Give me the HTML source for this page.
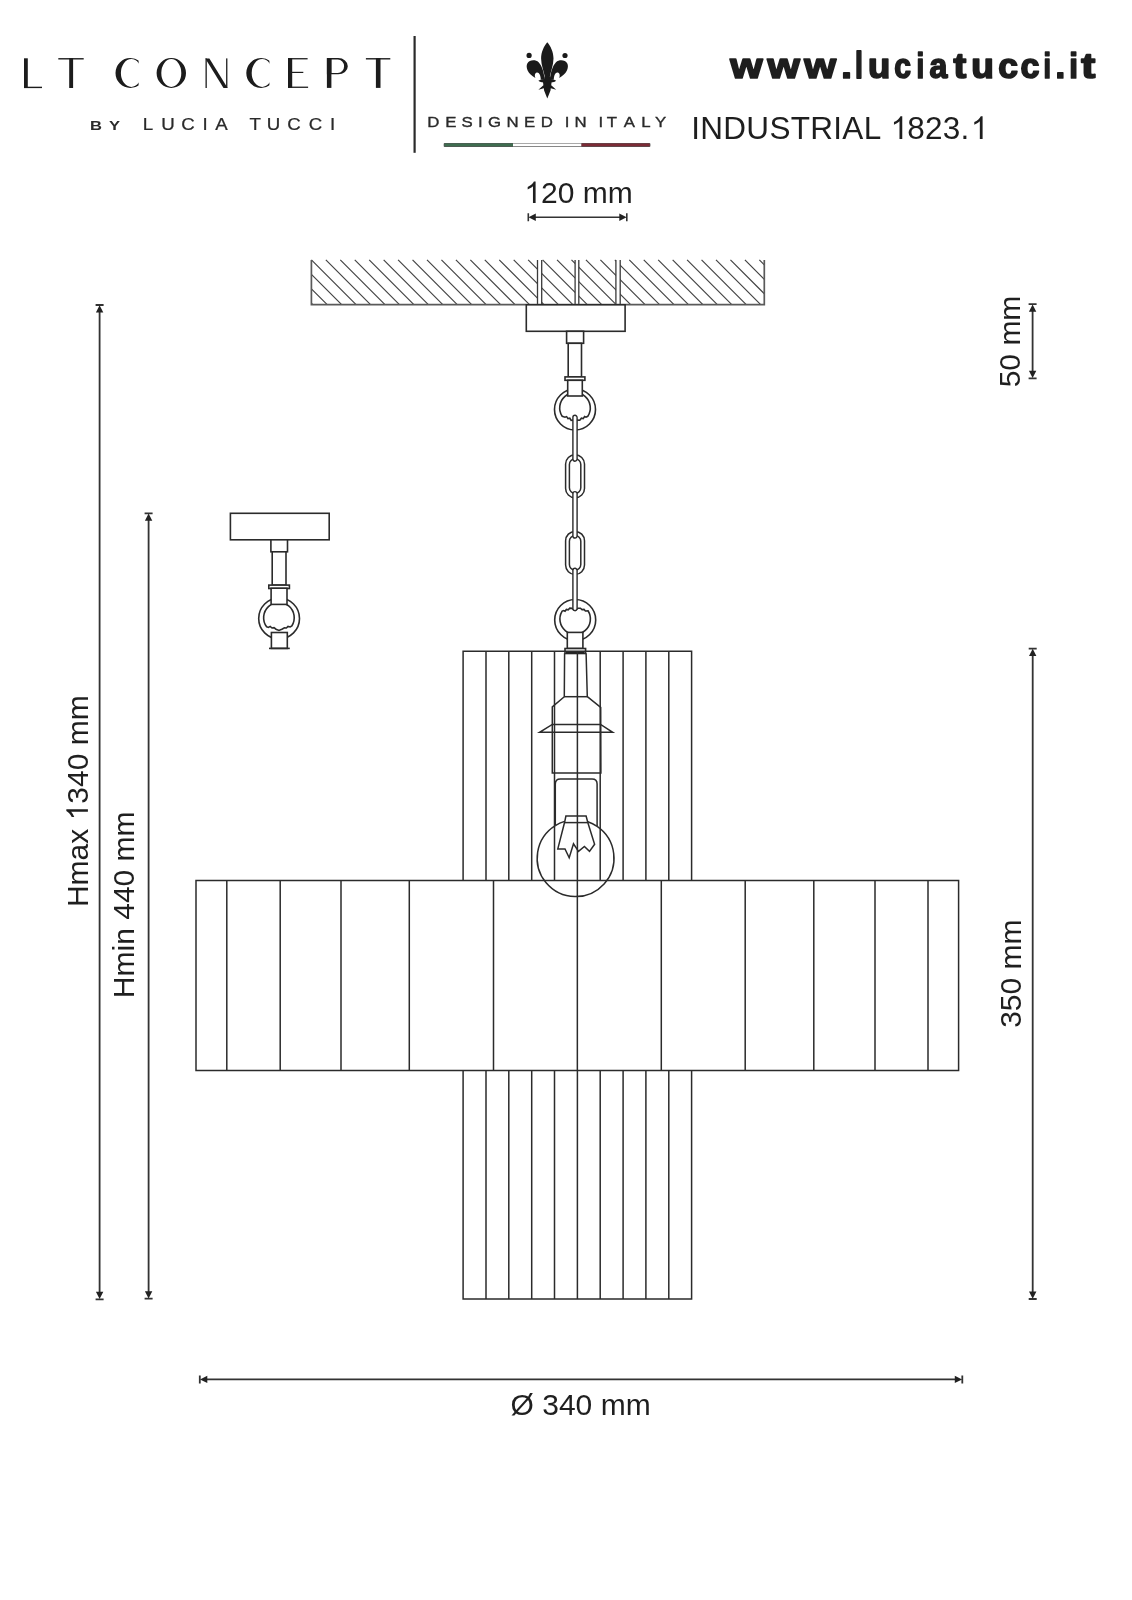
<!DOCTYPE html>
<html><head><meta charset="utf-8"><title>INDUSTRIAL 1823.1</title>
<style>html,body{margin:0;padding:0;background:#fff;}svg{display:block;will-change:transform;}</style></head>
<body><svg width="1132" height="1600" viewBox="0 0 1132 1600">
<rect width="1132" height="1600" fill="#fff"/>
<path d="M311.40 303.25L312.75 304.60M311.40 288.80L327.20 304.60M311.40 274.35L341.65 304.60M311.40 259.90L356.10 304.60M325.85 259.90L370.55 304.60M340.30 259.90L385.00 304.60M354.75 259.90L399.45 304.60M369.20 259.90L413.90 304.60M383.65 259.90L428.35 304.60M398.10 259.90L442.80 304.60M412.55 259.90L457.25 304.60M427.00 259.90L471.70 304.60M441.45 259.90L486.15 304.60M455.90 259.90L500.60 304.60M470.35 259.90L515.05 304.60M484.80 259.90L529.50 304.60M499.25 259.90L543.95 304.60M513.70 259.90L558.40 304.60M528.15 259.90L572.85 304.60M542.60 259.90L587.30 304.60M557.05 259.90L601.75 304.60M571.50 259.90L616.20 304.60M585.95 259.90L630.65 304.60M600.40 259.90L645.10 304.60M614.85 259.90L659.55 304.60M629.30 259.90L674.00 304.60M643.75 259.90L688.45 304.60M658.20 259.90L702.90 304.60M672.65 259.90L717.35 304.60M687.10 259.90L731.80 304.60M701.55 259.90L746.25 304.60M716.00 259.90L760.70 304.60M730.45 259.90L764.30 293.75M744.90 259.90L764.30 279.30M759.35 259.90L764.30 264.85" stroke="#444" stroke-width="1.2" fill="none"/>
<rect x="537.5" y="258.9" width="4.2000000000000455" height="45.700000000000045" fill="#fff"/>
<path d="M537.5 259.9V304.6M541.7 259.9V304.6" stroke="#3a3a3a" stroke-width="1.3"/>
<rect x="575.1" y="258.9" width="3.699999999999932" height="45.700000000000045" fill="#fff"/>
<path d="M575.1 259.9V304.6M578.8 259.9V304.6" stroke="#3a3a3a" stroke-width="1.3"/>
<rect x="615.9" y="258.9" width="4.300000000000068" height="45.700000000000045" fill="#fff"/>
<path d="M615.9 259.9V304.6M620.2 259.9V304.6" stroke="#3a3a3a" stroke-width="1.3"/>
<path d="M311.4 259.9V304.6H764.3V259.9" stroke="#5a5a5a" stroke-width="1.7" fill="none" stroke-linejoin="miter"/>
<g transform="translate(0 0)" stroke="#2b2b2b" stroke-width="1.6" fill="#fff"><rect x="526.3" y="304.8" width="98.8" height="26.5"/><rect x="566.6" y="331.3" width="17" height="12"/><rect x="568.2" y="343.3" width="13.3" height="33.6"/><rect x="565" y="376.9" width="19.9" height="3.4"/><circle cx="575" cy="409.5" r="20.5"/><path d="M562.2 416.3 A15.3 15.3 0 1 1 587.8 416.3 L586 417.2 L584.6 416.6 L583.2 418.6 L581.4 418.2 L579.8 420.2 L577.5 420 L575.6 421.6 L573.6 420 L571.2 420.4 L569.8 418.2 L568 418.6 L566.6 416.6 L565 417.2 Z"/><rect x="567.7" y="380.3" width="14.6" height="15.7"/></g>
<rect x="565.6" y="454.7" width="18.9" height="43.1" rx="9.4" fill="#fff" stroke="#2b2b2b" stroke-width="1.5"/><rect x="569.4" y="458.8" width="11.4" height="34.6" rx="5.7" fill="#fff" stroke="#2b2b2b" stroke-width="1.5"/>
<rect x="565.6" y="531.4" width="18.9" height="43.1" rx="9.4" fill="#fff" stroke="#2b2b2b" stroke-width="1.5"/><rect x="569.4" y="535.5" width="11.4" height="34.6" rx="5.7" fill="#fff" stroke="#2b2b2b" stroke-width="1.5"/>
<path d="M572.9 417.40000000000003V459.09999999999997A2.1 2.1 0 0 0 577.1 459.09999999999997V417.40000000000003A2.1 2.1 0 0 0 572.9 417.40000000000003" fill="#fff" stroke="#2b2b2b" stroke-width="1.4"/>
<path d="M572.9 493.70000000000005V535.9A2.1 2.1 0 0 0 577.1 535.9V493.70000000000005A2.1 2.1 0 0 0 572.9 493.70000000000005" fill="#fff" stroke="#2b2b2b" stroke-width="1.4"/>
<g stroke="#2b2b2b" stroke-width="1.6" fill="#fff"><circle cx="575.2" cy="620" r="20.5"/><path d="M562 611.3 L563.6 610.6 L565 611.2 L566.4 609.4 L568.2 609.8 L569.8 608.2 L572 608.4 L575.1 610.6 L578 608.2 L580.4 608.2 L582 609.6 L584 609.4 L585.4 611 L588 610.8 A15.25 15.25 0 1 1 562 611.3 Z"/><rect x="567.3" y="632.4" width="15.6" height="16.1"/><rect x="565" y="648.5" width="20.6" height="5"/></g>
<rect x="566" y="651.5" width="18.6" height="2" fill="#222"/>
<path d="M572.9 570.4V608.5A2.1 2.1 0 0 0 577.1 608.5V570.4A2.1 2.1 0 0 0 572.9 570.4" fill="#fff" stroke="#2b2b2b" stroke-width="1.4"/>
<path d="M463.1 651.2H691.6M463.1 651.2V880.4M486.0 651.2V880.4M508.8 651.2V880.4M531.7 651.2V880.4M554.5 651.2V880.4M577.4 651.2V880.4M600.2 651.2V880.4M623.1 651.2V880.4M645.9 651.2V880.4M668.8 651.2V880.4M691.6 651.2V880.4M196 880.4H958.6M196 1070.6H958.6M196 880.4V1070.6M226.8 880.4V1070.6M280.2 880.4V1070.6M341 880.4V1070.6M409.3 880.4V1070.6M493.5 880.4V1070.6M577.35 880.4V1070.6M661.3 880.4V1070.6M745.2 880.4V1070.6M813.8 880.4V1070.6M875 880.4V1070.6M928 880.4V1070.6M958.6 880.4V1070.6M463.1 1070.6V1299.0M486.0 1070.6V1299.0M508.8 1070.6V1299.0M531.7 1070.6V1299.0M554.5 1070.6V1299.0M577.4 1070.6V1299.0M600.2 1070.6V1299.0M623.1 1070.6V1299.0M645.9 1070.6V1299.0M668.8 1070.6V1299.0M691.6 1070.6V1299.0M463.1 1299.0H691.6" stroke="#2b2b2b" stroke-width="1.5" fill="none" stroke-linecap="square"/>
<g stroke="#2b2b2b" stroke-width="1.5" fill="none"><path d="M564.6 653.2 L564.3 696.7 L552.3 706.9 L552.3 773 L600.9 773 L600.7 707.4 L587.3 696.7 L586.1 653.2"/><path d="M564.3 696.7 H587.3"/><path d="M552.3 724.4 H600.6 L612.7 732.3 H539.6 Z"/><path d="M555.3 825.6 V784 Q555.3 778.9 560.3 778.9 H592.1 Q597.1 778.9 597.1 784 V826.4"/><path d="M555.3 825.6 A38.4 38.4 0 1 0 597.1 826.4"/><path d="M555.3 825.6 A38.4 38.4 0 0 1 564.6 821.4"/><path d="M587.8 821.8 A38.4 38.4 0 0 1 597.1 826.4"/><path d="M565.9 816 H586.1 L587.8 822.5 L594.6 844.3 L589.5 851.4 L584.4 846.4 L578.5 851.4 L573.5 843.8 L569.2 857.8 L565 848.9 L557.8 848.9 L564.6 822.3 Z"/><path d="M564.6 822.6 H587.8"/></g>
<g transform="translate(-295.9 208.5)" stroke="#2b2b2b" stroke-width="1.6" fill="#fff"><rect x="526.3" y="304.8" width="98.8" height="26.5"/><rect x="566.8" y="331.3" width="16.6" height="12"/><rect x="568.1" y="343.3" width="13.8" height="33.3"/><rect x="564.7" y="376.6" width="20.6" height="3.4"/></g>
<g stroke="#2b2b2b" stroke-width="1.6" fill="#fff"><circle cx="279.1" cy="618.4" r="20.4"/><path transform="translate(0 -1.4)" d="M266.6 628.2 L268.4 628.8 L270.2 627.8 L272 629.4 L274 629 L276 630.6 L279 631.8 L282.4 630.4 L284.4 629.2 L286.4 629.4 L288 627.8 L290.2 628.4 L291.8 627.4 A15.3 15.3 0 1 0 266.6 628.2 Z"/><rect x="271.1" y="588.2" width="15.9" height="16.2"/><rect x="271.4" y="632.5" width="15.9" height="15.9"/><path d="M269 648.4 H289.8"/></g>
<path d="M99.6 310V1294.3M95.6 305H103.6M95.6 1299.3H103.6" stroke="#333" stroke-width="1.8" fill="none"/><path d="M99.6 305.2L103.3 312.5H95.89999999999999Z M99.6 1299.1L103.3 1291.8H95.89999999999999Z" fill="#222"/>
<path d="M148.6 518.3V1293.7M144.6 513.3H152.6M144.6 1298.7H152.6" stroke="#333" stroke-width="1.8" fill="none"/><path d="M148.6 513.5L152.29999999999998 520.8H144.9Z M148.6 1298.5L152.29999999999998 1291.2H144.9Z" fill="#222"/>
<path d="M1032.6 309.2V373.3M1028.6 304.2H1036.6M1028.6 378.3H1036.6" stroke="#333" stroke-width="1.8" fill="none"/><path d="M1032.6 304.4L1036.3 311.7H1028.8999999999999Z M1032.6 378.1L1036.3 370.8H1028.8999999999999Z" fill="#222"/>
<path d="M1032.7 653.6V1294M1028.7 648.6H1036.7M1028.7 1299H1036.7" stroke="#333" stroke-width="1.8" fill="none"/><path d="M1032.7 648.8000000000001L1036.4 656.1H1029.0Z M1032.7 1298.8L1036.4 1291.5H1029.0Z" fill="#222"/>
<path d="M204.8 1379.4H957.3M199.8 1375.4V1383.4M962.3 1375.4V1383.4" stroke="#333" stroke-width="1.8" fill="none"/><path d="M200.0 1379.4L207.3 1375.7V1383.1000000000001Z M962.0999999999999 1379.4L954.8 1375.7V1383.1000000000001Z" fill="#222"/>
<path d="M533.3 217.3H621.8M528.3 213.3V221.3M626.8 213.3V221.3" stroke="#333" stroke-width="1.6" fill="none"/><path d="M528.5 217.3L535.8 213.60000000000002V221.0Z M626.5999999999999 217.3L619.3 213.60000000000002V221.0Z" fill="#222"/>
<g font-family="Liberation Sans, sans-serif" fill="#1f1f1f">
<g><text x="524.42" y="203.1" font-size="30" letter-spacing="0.0" > 20 mm</text><path transform="translate(524.42 203.1) scale(0.01465 -0.01465)" d="M763 0L583 0L583 1147Q518 1085 412.5 1023Q307 961 223 930L223 1104Q374 1175 487.5 1276Q601 1377 648 1472L763 1472Z"/></g>
<g><text x="510.58" y="1415.1" font-size="30" letter-spacing="0.0" >Ø 340 mm</text></g>
<g transform="translate(87.9 801.2) rotate(-90)"><text x="-105.86" y="0" font-size="30" letter-spacing="0.0" >Hmax  340 mm</text><path transform="translate(-19.19 0) scale(0.01465 -0.01465)" d="M763 0L583 0L583 1147Q518 1085 412.5 1023Q307 961 223 930L223 1104Q374 1175 487.5 1276Q601 1377 648 1472L763 1472Z"/></g>
<g transform="translate(133.6 904.8) rotate(-90)"><text x="-93.35" y="0" font-size="30" letter-spacing="0.0" >Hmin 440 mm</text></g>
<g transform="translate(1020.3 341.5) rotate(-90)"><text x="-45.84" y="0" font-size="30" letter-spacing="0.0" >50 mm</text></g>
<g transform="translate(1020.9 973.7) rotate(-90)"><text x="-54.18" y="0" font-size="30" letter-spacing="0.0" >350 mm</text></g>
</g>
<g fill="#1c1c1c">
<rect x="24" y="58.3" width="3.8" height="29.7"/><rect x="24" y="86.7" width="18" height="1.4"/>
<rect x="58.3" y="58.1" width="25.4" height="1.4"/><rect x="69.2" y="58.1" width="3.9" height="29.9"/>
<clipPath id="c1"><rect x="110.30000000000001" y="50" width="28.299999999999983" height="45"/></clipPath><path clip-path="url(#c1)" fill-rule="evenodd" d="M130.3 73m-14.8 0a14.8 15 0 1 0 29.6 0a14.8 15 0 1 0 -29.6 0Z M131.3 73m-10.4 0a10.4 13.9 0 1 0 20.8 0a10.4 13.9 0 1 0 -20.8 0Z"/>
<path fill-rule="evenodd" d="M156.6 73a14.7 15 0 1 0 29.4 0a14.7 15 0 1 0 -29.4 0Z M161.3 73a10 13.9 0 1 0 20 0a10 13.9 0 1 0 -20 0Z"/>
<rect x="205.5" y="58.4" width="1.3" height="29.6"/><rect x="226.1" y="58.4" width="1.3" height="29.6"/><path d="M205.3 58.4H209.4L227.6 88H223.5Z"/>
<clipPath id="c2"><rect x="241.10000000000002" y="50" width="28.299999999999955" height="45"/></clipPath><path clip-path="url(#c2)" fill-rule="evenodd" d="M261.1 73m-14.8 0a14.8 15 0 1 0 29.6 0a14.8 15 0 1 0 -29.6 0Z M262.1 73m-10.4 0a10.4 13.9 0 1 0 20.8 0a10.4 13.9 0 1 0 -20.8 0Z"/>
<rect x="288" y="58.1" width="4.2" height="29.8"/><rect x="288" y="58.1" width="19.6" height="1.3"/><rect x="288" y="71.8" width="15.3" height="1.2"/><rect x="288" y="86.6" width="20.1" height="1.3"/>
<rect x="326.9" y="58.1" width="4.5" height="29.8"/><path fill-rule="evenodd" d="M326.9 58.1H338.2A9.6 8.1 0 0 1 338.2 74.3H326.9Z M331.4 59.4H337.8A6.3 6.8 0 0 1 337.8 73H331.4Z"/>
<rect x="365.9" y="58.1" width="24.4" height="1.4"/><rect x="375.9" y="58.1" width="4.6" height="29.8"/>
</g>
<g font-family="Liberation Sans, sans-serif" font-size="16.7" fill="#2a2a2a" stroke="#2a2a2a" stroke-width="0.25" text-anchor="middle" transform="scale(1.12 1)">
<text x="132.14" y="130.3">L</text>
<text x="149.91" y="130.3">U</text>
<text x="167.86" y="130.3">C</text>
<text x="183.04" y="130.3">I</text>
<text x="197.77" y="130.3">A</text>
<text x="227.86" y="130.3">T</text>
<text x="244.11" y="130.3">U</text>
<text x="262.50" y="130.3">C</text>
<text x="281.61" y="130.3">C</text>
<text x="296.88" y="130.3">I</text>
</g>
<g font-family="Liberation Sans, sans-serif" font-size="12" font-weight="bold" fill="#2a2a2a" text-anchor="middle"><text transform="translate(96 130.1) scale(1.38 1)">B</text><text transform="translate(114.5 130.1) scale(1.38 1)">Y</text></g>
<path d="M414.6 36V152.8" stroke="#2a2a2a" stroke-width="2.2"/>
<g font-family="Liberation Sans, sans-serif" font-size="15" fill="#2a2a2a" stroke="#2a2a2a" stroke-width="0.35" text-anchor="middle" transform="scale(1.12 1)">
<text x="386.79" y="127.4">D</text>
<text x="402.59" y="127.4">E</text>
<text x="416.96" y="127.4">S</text>
<text x="428.93" y="127.4">I</text>
<text x="441.61" y="127.4">G</text>
<text x="457.77" y="127.4">N</text>
<text x="472.95" y="127.4">E</text>
<text x="488.30" y="127.4">D</text>
<text x="506.25" y="127.4">I</text>
<text x="518.48" y="127.4">N</text>
<text x="536.52" y="127.4">I</text>
<text x="546.25" y="127.4">T</text>
<text x="561.87" y="127.4">A</text>
<text x="576.70" y="127.4">L</text>
<text x="589.73" y="127.4">Y</text>
</g>
<rect x="443.7" y="142.9" width="206.7" height="4" rx="1" fill="#555"/><rect x="444.5" y="143.5" width="68.5" height="2.8" fill="#3f6d50"/><rect x="513" y="143.5" width="68.5" height="2.8" fill="#fff"/><rect x="581.5" y="143.5" width="68.2" height="2.8" fill="#7c2b36"/>
<g fill="#1a1a1a"><path d="M547.3 42.2 C550.6 46 553.5 52 553.5 58.5 C553.5 65 550.6 72 549.4 78.6 L545.2 78.6 C544 72 541.1 65 541.1 58.5 C541.1 52 544 46 547.3 42.2 Z"/><path d="M544.8 79.4 C543.8 73 542.6 66.5 538.6 62.2 C535.4 59.4 529.4 59.6 527.3 63.6 C525.4 67.4 527.8 74.2 535.4 78 C534.4 75.6 534.8 72.9 536.9 72.5 C539.2 72.2 540.6 75.2 540.8 79.4 Z"/><path d="M 549.8 79.4 C 550.8 73.0 552.0 66.5 556.0 62.2 C 559.2 59.4 565.2 59.6 567.3 63.6 C 569.2 67.4 566.8 74.2 559.2 78.0 C 560.2 75.6 559.8 72.9 557.7 72.5 C 555.4 72.2 554.0 75.2 553.8 79.4 Z"/><path d="M538.4 80.7 C540 79.2 543 78.9 547.3 78.9 C551.6 78.9 554.6 79.2 556.2 80.7 C554.6 82.3 551.6 82.5 547.3 82.5 C543 82.5 540 82.3 538.4 80.7 Z"/><path d="M543 82 L551.6 82 L551.2 85.2 L556.2 89.8 L550.8 88.2 L550.5 90.6 L547.3 98.4 L544.1 90.6 L543.8 88.2 L538.4 89.8 L543.4 85.2 Z"/><circle cx="529.1" cy="55.4" r="2.6"/><circle cx="565.0" cy="55.5" r="2.6"/><path d="M544.6 76.5 H550 L550.6 80 H544 Z"/></g>
<g font-family="Liberation Sans, sans-serif" font-weight="bold" font-size="34.5" fill="#1e1e1e" stroke="#1e1e1e" stroke-width="1.7" stroke-linejoin="round">
<text transform="translate(730.37 78.25) scale(1.204 1.000)">w</text>
<text transform="translate(767.47 78.25) scale(1.204 1.000)">w</text>
<text transform="translate(804.27 78.25) scale(1.185 1.000)">w</text>
<text transform="translate(841.35 78.25) scale(1.109 1.000)">.</text>
<text transform="translate(854.97 78.25) scale(0.824 1.044)">l</text>
<text transform="translate(867.89 78.25) scale(1.056 1.000)">u</text>
<text transform="translate(894.27 78.25) scale(0.873 1.000)">c</text>
<text transform="translate(916.52 78.25) scale(0.803 1.020)">i</text>
<text transform="translate(929.51 78.25) scale(0.930 1.000)">a</text>
<text transform="translate(953.58 78.25) scale(1.108 1.004)">t</text>
<text transform="translate(971.35 78.25) scale(1.074 1.000)">u</text>
<text transform="translate(998.26 78.25) scale(1.028 1.000)">c</text>
<text transform="translate(1020.62 78.25) scale(0.986 1.000)">c</text>
<text transform="translate(1043.47 78.25) scale(0.782 1.020)">i</text>
<text transform="translate(1055.39 78.25) scale(1.006 1.000)">.</text>
<text transform="translate(1069.16 78.25) scale(0.908 1.020)">i</text>
<text transform="translate(1081.34 78.25) scale(1.221 1.004)">t</text>
</g>
<g font-family="Liberation Sans, sans-serif" fill="#1e1e1e"><g><text x="691.20" y="139" font-size="31.5" letter-spacing="0.3" >INDUSTRIAL  823. </text><path transform="translate(890.53 139) scale(0.01538 -0.01538)" d="M763 0L583 0L583 1147Q518 1085 412.5 1023Q307 961 223 930L223 1104Q374 1175 487.5 1276Q601 1377 648 1472L763 1472Z"/><path transform="translate(970.86 139) scale(0.01538 -0.01538)" d="M763 0L583 0L583 1147Q518 1085 412.5 1023Q307 961 223 930L223 1104Q374 1175 487.5 1276Q601 1377 648 1472L763 1472Z"/></g></g>
</svg></body></html>
